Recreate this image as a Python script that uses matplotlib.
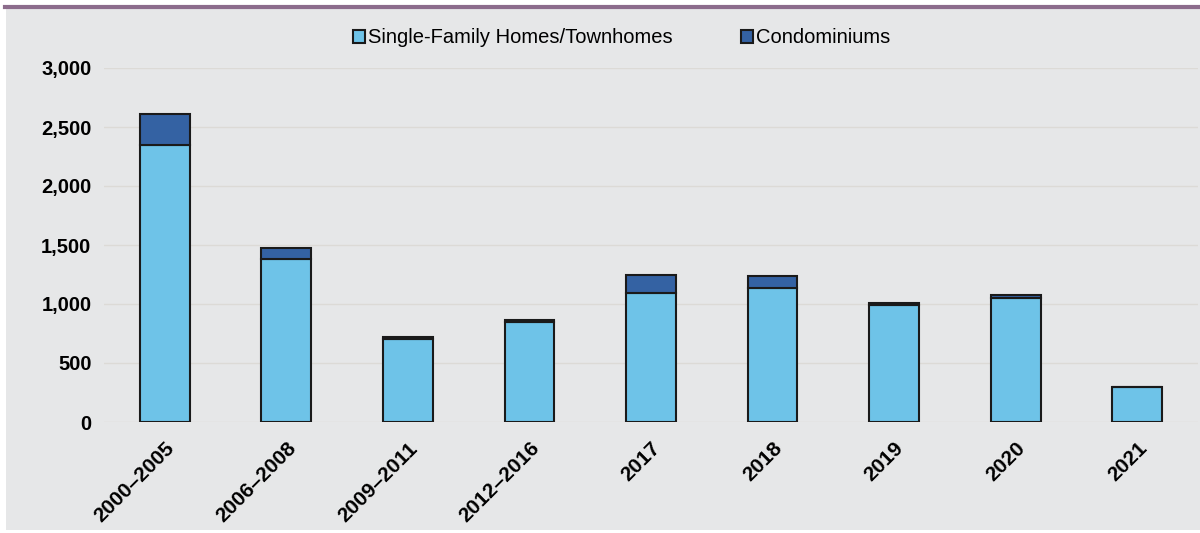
import matplotlib.pyplot as plt
import numpy as np
from matplotlib.patches import Rectangle
from matplotlib.lines import Line2D
from matplotlib.ticker import FuncFormatter

periods = ["2000\u20132005", "2006\u20132008", "2009\u20132011", "2012\u20132016",
           "2017", "2018", "2019", "2020", "2021"]
single_family = [2345, 1380, 700, 850, 1090, 1135, 990, 1055, 295]
condos = [265, 95, 20, 15, 160, 100, 20, 20, 5]

plt.rcParams['font.family'] = ['Liberation Sans', 'DejaVu Sans']

light_blue = "#6ec3e8"
dark_blue = "#3462a3"
panel = "#e6e7e8"

fig = plt.figure(figsize=(12, 5.33), dpi=100, facecolor="white")

# grey panel with a mauve rule across the top
fig.add_artist(Rectangle((6 / 1200, 0.006), 1 - 6 / 1200, 1 - 9 / 533 - 0.006,
                         transform=fig.transFigure, facecolor=panel,
                         edgecolor="none", zorder=0))
fig.add_artist(Line2D([5 / 1200, 1], [1 - 6.5 / 533, 1 - 6.5 / 533],
                      transform=fig.transFigure, color="#8c6c8c", lw=3))

ax = fig.add_axes([104 / 1200, 1 - 422 / 533, (1198 - 104) / 1200, (422 - 68) / 533])
ax.set_facecolor("none")

x = np.arange(len(periods))
w = 0.41
ax.bar(x, single_family, w, color=light_blue, edgecolor="#1a1a1a", lw=1.5,
       label="Single-Family Homes/Townhomes", zorder=3)
ax.bar(x, condos, w, bottom=single_family, color=dark_blue, edgecolor="#1a1a1a",
       lw=1.5, label="Condominiums", zorder=3)

ax.set_ylim(0, 3000)
ax.set_xlim(-0.5, 8.5)
ax.set_yticks(range(0, 3001, 500))
ax.yaxis.set_major_formatter(FuncFormatter(lambda v, p: f"{int(v):,}"))
ax.grid(axis="y", color="#dcdad6", lw=1.0, zorder=0)
for s in ax.spines.values():
    s.set_visible(False)
ax.tick_params(length=0)
ax.tick_params(axis="y", pad=9, labelsize=14.5)
ax.set_xticks(x)
ax.set_xticklabels(periods, rotation=45, ha="right", rotation_mode="anchor",
                   fontsize=15, fontweight="bold")
ax.tick_params(axis="x", pad=12)
for lab in ax.get_yticklabels():
    lab.set_fontweight("bold")

ax.legend(loc="center", bbox_to_anchor=(0.473, 1.085), ncol=2, frameon=False,
          fontsize=14.5, handlelength=0.6, handleheight=0.6, handletextpad=0.15,
          columnspacing=3.4)

fig.savefig("out.png", dpi=100, facecolor="white")
